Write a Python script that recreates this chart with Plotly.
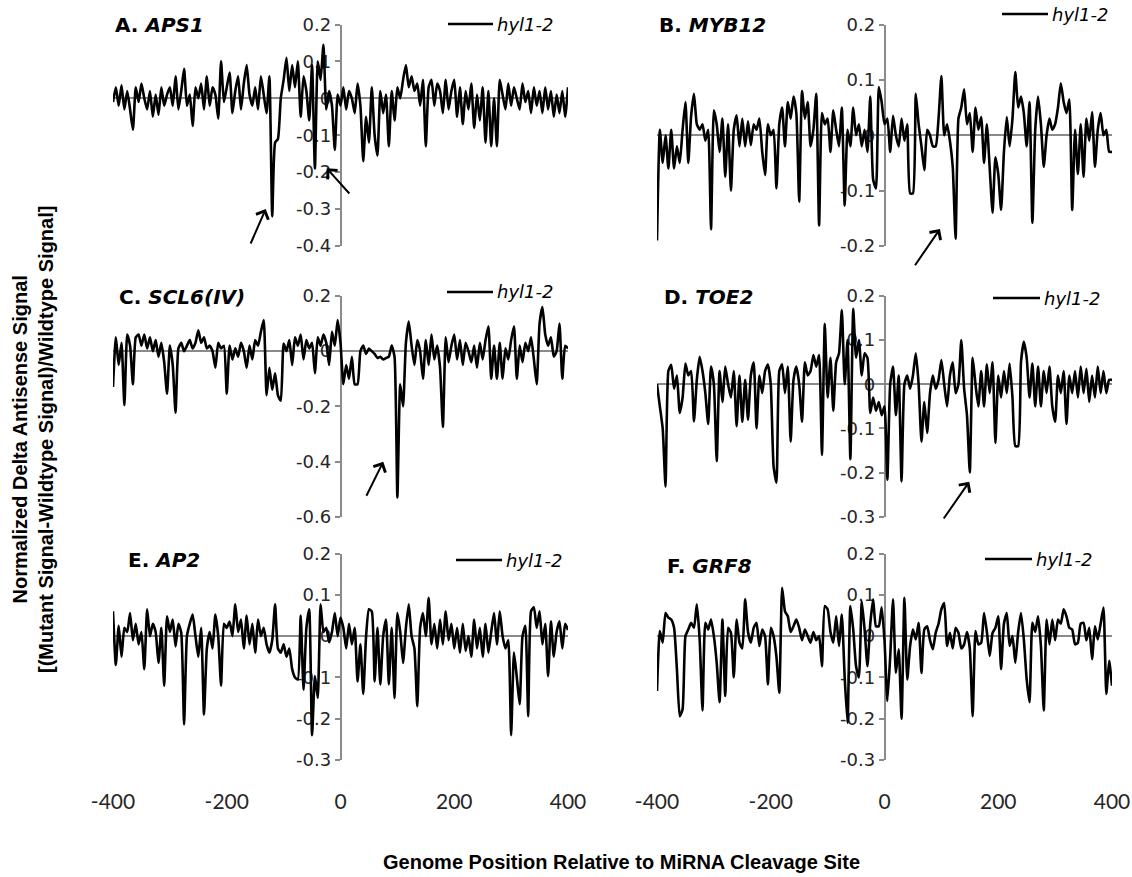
import plotly.graph_objects as go

W, H = 1132, 877

# genome position relative to miRNA cleavage site (step 5)
positions = list(range(-400, 401, 5))

aps1 = [
    -0.01, 0.03, -0.02, 0.035, -0.03, 0.02, -0.03, -0.085, 0.03, -0.01,
    0.04, 0.0, -0.03, 0.02, -0.05, 0.01, -0.045, 0.03, -0.02, 0.01,
    0.03, -0.02, 0.06, -0.03, 0.02, 0.08, -0.02, 0.01, -0.075, 0.03,
    0.0, 0.04, -0.03, 0.06, -0.02, 0.03, 0.01, -0.055, 0.1, -0.01,
    0.03, 0.07, -0.04, 0.02, 0.06, -0.03, 0.04, 0.09, 0.01, -0.02,
    0.03, -0.03, 0.06, 0.01, -0.04, 0.06, -0.32, -0.12, -0.11, 0.0,
    0.05, 0.11, 0.02, 0.09, 0.03, 0.1, -0.05, 0.06, 0.02, -0.06,
    0.09, -0.19, 0.1, 0.05, 0.145, -0.03, 0.02, -0.02, -0.14, 0.01,
    -0.02, 0.03, -0.03, 0.02, 0.0, -0.04, 0.04, -0.02, -0.17, -0.05,
    -0.12, 0.03, -0.1, -0.155, 0.02, -0.04, 0.01, -0.13, 0.02, -0.06,
    0.03, 0.0, 0.05, 0.09, 0.03, 0.06, 0.02, 0.04, -0.02, 0.05,
    -0.13, 0.03, 0.05, -0.02, 0.04, 0.02, -0.04, 0.05, -0.03, 0.02,
    0.05, -0.05, 0.03, -0.07, 0.02, -0.03, 0.04, -0.08, 0.01, -0.06,
    0.03, -0.12, 0.02, -0.13, 0.0, -0.13, 0.05, 0.01, -0.03, 0.04,
    -0.02, 0.03, 0.0, -0.03, 0.04, -0.01, 0.02, -0.04, 0.03, -0.02,
    0.02, -0.04, 0.03, -0.03, 0.02, -0.05, 0.01, -0.04, 0.02, -0.05,
    0.03,
]

myb12 = [
    -0.19, 0.01, -0.05, 0.0, -0.06, 0.01, -0.06, -0.02, -0.05, 0.01,
    0.06, -0.05, 0.035, 0.075, 0.02, 0.01, 0.02, -0.01, 0.01, -0.17,
    0.045, 0.02, -0.03, 0.03, -0.075, 0.02, -0.1, 0.01, 0.036, -0.02,
    0.03, -0.02, 0.025, -0.018, 0.02, 0.01, 0.03, -0.03, -0.072, 0.02,
    0.0, 0.01, -0.096, 0.02, 0.05, -0.02, 0.06, 0.03, 0.07, 0.04,
    -0.12, 0.08, 0.03, 0.06, -0.02, 0.01, 0.075, -0.163, 0.04, 0.02,
    0.03, -0.03, 0.045, 0.01, -0.02, 0.05, -0.127, 0.01, -0.02, 0.05,
    0.0, 0.02, -0.02, 0.01, -0.03, 0.07, -0.08, -0.096, 0.087, 0.06,
    0.02, 0.03, -0.03, 0.035, 0.0, -0.02, 0.03, -0.01, 0.02, -0.105,
    -0.105, 0.075, 0.02, -0.02, -0.063, 0.01, 0.0, -0.02, -0.02, 0.03,
    0.107, 0.0, 0.02, -0.01, -0.057, -0.187, 0.03, 0.05, 0.083, 0.02,
    0.04, -0.03, 0.05, 0.01, 0.033, -0.05, 0.02, -0.06, -0.14, -0.04,
    -0.07, -0.135, -0.03, 0.033, -0.02, 0.03, 0.114, 0.05, 0.07, 0.04,
    -0.02, 0.06, -0.158, 0.01, 0.07, 0.02, -0.057, 0.0, 0.03, 0.01,
    0.02, 0.05, 0.094, 0.06, 0.04, 0.065, -0.135, 0.01, -0.07, 0.02,
    -0.075, 0.03, -0.01, 0.042, -0.057, 0.01, 0.04, 0.0, 0.01, -0.03,
    -0.03,
]

scl6 = [
    -0.13, 0.05, -0.05, 0.03, -0.196, 0.06, 0.02, -0.12, 0.05, 0.06,
    0.02, 0.06, 0.01, 0.05, 0.0, 0.04, -0.02, 0.03, -0.04, -0.154,
    0.02, -0.05, -0.223, 0.01, 0.03, 0.0, 0.02, 0.04, 0.01, 0.03,
    0.076, 0.03, 0.05, 0.01, 0.02, 0.0, -0.06, 0.03, 0.01, 0.02,
    -0.154, 0.02, -0.03, 0.01, -0.02, 0.03, 0.0, -0.06, 0.02, -0.03,
    0.04, 0.02, 0.07, 0.113, -0.16, -0.06, -0.14, -0.08, -0.16, -0.18,
    0.028, 0.0, 0.04, -0.05, 0.05, 0.02, 0.06, -0.03, 0.04, 0.01,
    0.03, -0.08, 0.05, 0.02, 0.06, 0.03, -0.05, 0.07, 0.02, 0.113,
    0.03, -0.12, -0.05, -0.1, -0.02, -0.12, -0.12, 0.0, 0.02, -0.01,
    0.01, 0.0, -0.01, -0.025, -0.02, -0.03, -0.025, -0.02, 0.02, -0.02,
    -0.53, -0.12, -0.2, 0.03, 0.107, 0.02, -0.05, 0.04, 0.0, -0.1,
    0.04, -0.05, 0.06, -0.03, 0.02, -0.06, -0.275, 0.05, -0.04, 0.02,
    0.06, -0.03, 0.04, -0.05, 0.03, 0.0, -0.04, 0.02, -0.06, 0.03,
    -0.03, 0.04, 0.09, -0.1, 0.02, -0.1, 0.03, -0.1, 0.01, -0.03,
    0.04, 0.09, -0.1, 0.02, -0.04, 0.03, 0.0, 0.05, -0.03, -0.12,
    0.1, 0.16, 0.06, 0.02, 0.05, -0.02, 0.0, 0.1, -0.1, 0.02,
    0.01,
]

toe2 = [
    0.0, -0.05, -0.1, -0.232, 0.03, 0.044, -0.01, 0.02, -0.065, -0.03,
    0.047, 0.02, 0.03, -0.084, 0.01, 0.062, 0.03, -0.02, -0.09, 0.04,
    0.0, -0.174, 0.03, -0.04, 0.04, 0.0, -0.03, 0.03, -0.095, 0.02,
    -0.085, 0.01, -0.08, 0.02, 0.05, -0.1, 0.02, -0.02, 0.03, 0.045,
    0.0, -0.186, -0.223, 0.03, 0.045, -0.02, 0.04, -0.13, 0.01, 0.04,
    0.0, -0.085, 0.05, 0.02, 0.03, 0.066, 0.04, 0.066, -0.16, 0.137,
    -0.03, 0.06, -0.06, 0.05, 0.07, 0.168, 0.0, 0.1, -0.17, 0.171,
    0.06, 0.1, 0.02, 0.07, 0.06, -0.065, -0.03, -0.06, -0.04, -0.07,
    -0.05, -0.216, 0.0, 0.04, -0.07, 0.02, -0.22, 0.0, 0.02, -0.01,
    0.02, 0.07, 0.0, -0.13, -0.04, -0.11, -0.02, 0.02, -0.01, 0.01,
    0.055, 0.0, -0.05, 0.02, 0.05, -0.02, 0.0, 0.1, -0.01, -0.07,
    -0.2, 0.06, 0.0, -0.05, 0.03, -0.05, 0.045, -0.02, 0.05, -0.133,
    0.02, -0.03, 0.03, -0.02, 0.047, -0.03, -0.14, -0.14, 0.05, 0.096,
    0.06, -0.03, 0.047, -0.05, 0.04, -0.05, 0.03, -0.02, 0.04, -0.05,
    -0.085, 0.02, -0.02, 0.03, -0.09, 0.02, -0.02, 0.03, -0.03, 0.04,
    -0.02, 0.035, -0.04, 0.02, -0.03, 0.04, -0.02, 0.03, -0.02, 0.01,
    0.01,
]

ap2 = [
    0.06, -0.07, 0.025, -0.05, 0.02, 0.01, 0.056, -0.01, 0.03, -0.02,
    0.01, -0.08, 0.065, 0.0, 0.03, 0.01, -0.065, 0.02, -0.12, 0.048,
    0.01, 0.04, -0.025, 0.03, 0.008, -0.214, 0.0, 0.03, 0.052, 0.0,
    -0.05, 0.02, -0.19, -0.03, 0.01, -0.03, 0.052, 0.0, -0.12, 0.03,
    0.02, 0.035, 0.0, 0.077, 0.01, 0.04, -0.03, 0.05, -0.02, 0.03,
    -0.04, 0.04, 0.0, 0.02, -0.02, -0.04, -0.01, 0.077, -0.03, -0.04,
    -0.02, -0.05, -0.03, -0.08, -0.1, -0.105, 0.05, -0.13, 0.02, 0.065,
    -0.24, -0.097, -0.15, 0.077, 0.01, 0.02, -0.015, 0.01, 0.056, 0.0,
    0.045, 0.02, -0.03, 0.03, -0.02, 0.02, -0.11, -0.02, -0.14, 0.0,
    0.065, 0.06, -0.11, 0.02, -0.117, 0.0, 0.04, -0.117, 0.02, -0.15,
    0.056, 0.01, -0.065, 0.02, 0.077, 0.0, -0.03, -0.17, 0.02, 0.056,
    0.0, 0.093, -0.02, 0.03, -0.03, 0.04, -0.02, 0.06, -0.01, 0.03,
    -0.03, 0.02, -0.04, 0.03, -0.036, 0.0, -0.05, 0.04, -0.03, 0.02,
    -0.05, 0.03, -0.04, 0.01, 0.056, -0.02, 0.06, 0.0, -0.03, -0.01,
    -0.24, -0.04, -0.1, -0.165, 0.0, 0.025, -0.194, 0.06, 0.07, 0.02,
    0.06, -0.02, 0.03, -0.097, 0.036, -0.05, 0.01, 0.036, -0.03, 0.03,
    0.015,
]

grf8 = [
    -0.133, 0.012, -0.016, 0.056, 0.045, 0.04, 0.02, -0.08, -0.194, -0.177,
    0.0, 0.016, 0.032, 0.02, 0.077, -0.008, -0.18, 0.032, 0.016, 0.04,
    0.0, -0.065, -0.16, 0.04, -0.145, 0.02, 0.008, -0.1, 0.04, -0.016,
    -0.03, 0.089, 0.01, -0.016, 0.02, 0.032, -0.024, 0.016, 0.0, -0.117,
    0.02, 0.0, -0.05, -0.137, 0.117, 0.06, 0.048, 0.01, 0.024, 0.04,
    0.02, -0.01, 0.016, 0.0, -0.016, 0.01, -0.01, 0.0, -0.073, 0.073,
    0.065, 0.01, -0.016, 0.048, -0.024, 0.052, -0.1, -0.21, 0.073, 0.016,
    -0.073, -0.1, 0.085, 0.016, -0.073, 0.03, 0.089, 0.024, 0.024, 0.07,
    -0.01, -0.157, -0.05, 0.089, -0.089, -0.032, -0.2, 0.093, -0.105, -0.024,
    0.016, -0.008, 0.032, -0.089, 0.016, 0.024, -0.01, -0.032, 0.008, 0.03,
    0.065, 0.08, -0.024, 0.008, -0.03, 0.02, 0.008, -0.03, -0.02, 0.01,
    -0.03, -0.194, 0.012, -0.02, -0.016, 0.056, 0.01, -0.048, 0.008, 0.02,
    0.048, -0.08, 0.03, 0.056, -0.024, 0.0, -0.065, 0.01, 0.056, -0.008,
    -0.105, -0.16, 0.032, 0.01, 0.048, -0.024, -0.18, 0.04, -0.02, 0.04,
    -0.01, 0.04, 0.03, 0.065, 0.048, 0.02, 0.016, -0.02, -0.016, 0.03,
    0.032, -0.01, 0.02, -0.056, 0.024, -0.008, 0.03, 0.069, -0.14, -0.06,
    -0.12,
]

letters = ["A", "B", "C", "D", "E", "F"]
genes = ["APS1", "MYB12", "SCL6(IV)", "TOE2", "AP2", "GRF8"]
series = [aps1, myb12, scl6, toe2, ap2, grf8]
y_ticks = [
    [-0.4, -0.3, -0.2, -0.1, 0, 0.1, 0.2],
    [-0.2, -0.1, 0, 0.1, 0.2],
    [-0.6, -0.4, -0.2, 0, 0.2],
    [-0.3, -0.2, -0.1, 0, 0.1, 0.2],
    [-0.3, -0.2, -0.1, 0, 0.1, 0.2],
    [-0.3, -0.2, -0.1, 0, 0.1, 0.2],
]
x_ticks = [-400, -200, 0, 200, 400]
legend_label = "hyl1-2"

# ---- layout geometry (pixels) ----
col_px = [(113, 568), (657, 1112)]
row_px = [(24.5, 246), (296, 516.7), (553.5, 760)]
title_px = [(113, 25), (657, 25), (117, 297), (662, 297), (126, 560), (665, 566)]
legend_px = [(448, 493, 24), (1002, 1048, 14), (447, 493, 292),
             (993, 1040, 298), (456, 502, 560), (985, 1032, 559)]
arrows_px = [((265.7, 209), (250, 245)), ((326.7, 168.3), (350.7, 195)),
             ((940, 229), (914, 266.7)), ((383.3, 461.7), (365.7, 497.3)),
             ((969.3, 481.7), (942.7, 520))]


def px(x):
    return x / W


def py(y):
    return 1 - y / H


AX_GREY = "#8a8a8a"
fig = go.Figure()
layout = dict(
    width=W, height=H, autosize=False,
    margin=dict(l=0, r=0, t=0, b=0, pad=0, autoexpand=False),
    paper_bgcolor="white", plot_bgcolor="white",
    showlegend=False,
)
annotations = []
shapes = []

for i in range(6):
    n = i + 1
    col = i % 2
    row = i // 2
    x0, x1 = col_px[col]
    ytop, ybot = row_px[row]
    ticks = y_ticks[i]
    fig.add_trace(go.Scatter(
        x=positions, y=series[i], mode="lines",
        line=dict(color="black", width=2.6, shape="spline", smoothing=0.5),
        xaxis=f"x{n}", yaxis=f"y{n}", hoverinfo="skip",
    ))
    bottom = row == 2
    xa = dict(
        domain=[px(x0), px(x1)], range=[-400, 400], automargin=False,
        showgrid=False, zeroline=False, showline=False, ticks="",
        showticklabels=bottom,
    )
    if bottom:
        xa.update(anchor="free", position=py(787), tickvals=x_ticks,
                  ticktext=[str(v) for v in x_ticks],
                  tickfont=dict(family="Lato", size=21, color="#262626"))
    else:
        xa.update(anchor=f"y{n}")
    layout[f"xaxis{n}"] = xa
    layout[f"yaxis{n}"] = dict(
        domain=[py(ybot), py(ytop)], range=[min(ticks), max(ticks)],
        anchor="free", position=px((x0 + x1) / 2), automargin=False,
        showgrid=False, showline=True, linecolor=AX_GREY, linewidth=1.6,
        ticks="outside", ticklen=5, tickcolor=AX_GREY, tickwidth=1.6,
        tickvals=ticks, ticktext=[f"{t:g}" for t in ticks],
        tickfont=dict(family="DejaVu Sans", size=18, color="#262626"),
        zeroline=True, zerolinecolor=AX_GREY, zerolinewidth=1.6,
        layer="below traces",
    )
    tx, ty = title_px[i]
    annotations.append(dict(
        x=px(tx), y=py(ty), xref="paper", yref="paper", xanchor="left",
        yanchor="middle", showarrow=False,
        text=f"<b>{letters[i]}. <i>{genes[i]}</i></b>",
        font=dict(family="DejaVu Sans", size=20, color="black"),
    ))
    lx0, lx1, ly = legend_px[i]
    shapes.append(dict(type="line", xref="paper", yref="paper",
                       x0=px(lx0), x1=px(lx1), y0=py(ly), y1=py(ly),
                       line=dict(color="black", width=2.6)))
    annotations.append(dict(
        x=px(lx1 + 2), y=py(ly), xref="paper", yref="paper", xanchor="left",
        yanchor="middle", showarrow=False, text=f"<i>{legend_label}</i>",
        font=dict(family="DejaVu Sans", size=18, color="black"),
    ))

for (hx, hy), (tx, ty) in arrows_px:
    annotations.append(dict(
        x=px(hx), y=py(hy), xref="paper", yref="paper", text="",
        showarrow=True, ax=tx - hx, ay=ty - hy, arrowhead=4, arrowsize=1.3,
        arrowwidth=2, arrowcolor="black",
    ))

annotations.append(dict(
    x=px(621), y=py(862), xref="paper", yref="paper", showarrow=False,
    text="<b>Genome Position Relative to MiRNA Cleavage Site</b>",
    font=dict(family="Liberation Sans", size=20, color="black"),
    xanchor="center", yanchor="middle",
))
annotations.append(dict(
    x=px(33), y=py(440), xref="paper", yref="paper", showarrow=False,
    text="<b>Normalized Delta Antisense Signal<br>[(Mutant Signal-Wildtype Signal)/Wildtype Signal]</b>",
    font=dict(family="Liberation Sans", size=20, color="black"),
    textangle=-90, xanchor="center", yanchor="middle",
))

layout["annotations"] = annotations
layout["shapes"] = shapes
fig.update_layout(**layout)
fig.write_html("out.html")
